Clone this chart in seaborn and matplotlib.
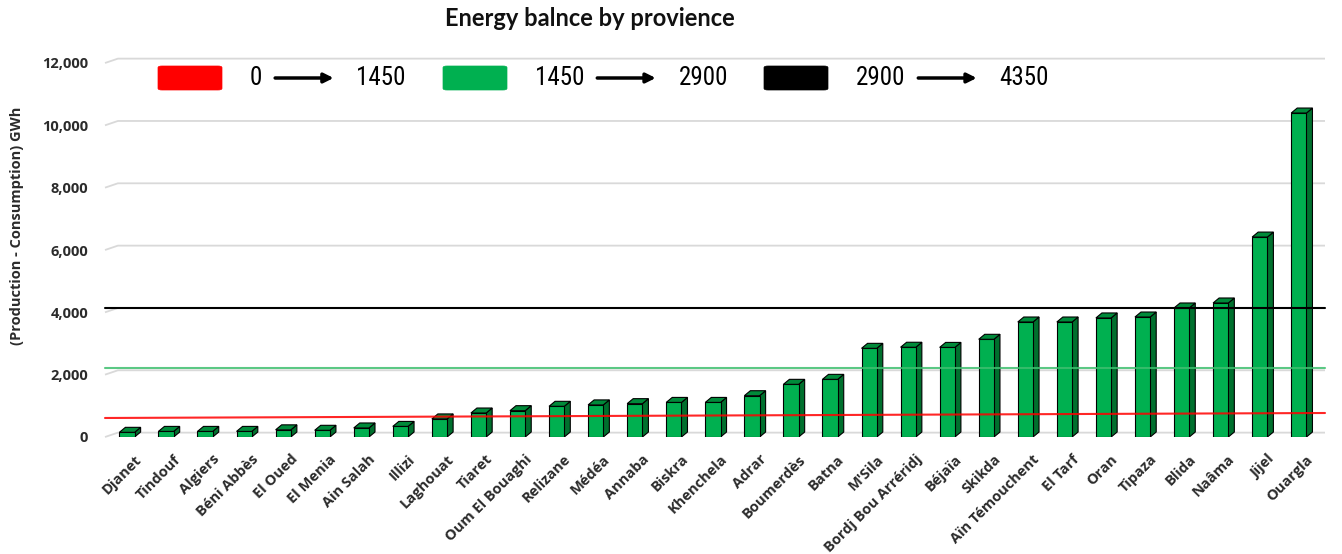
import matplotlib
matplotlib.use("Agg")
import matplotlib.pyplot as plt
import matplotlib.transforms as mtransforms
import pandas as pd
import seaborn as sns
from matplotlib import font_manager
from matplotlib.patches import Polygon, FancyBboxPatch, FancyArrowPatch

# ---- data -------------------------------------------------------------
provinces = ["Djanet", "Tindouf", "Algiers", "Béni Abbès", "El Oued", "El Menia",
             "Ain Salah", "Illizi", "Laghouat", "Tiaret", "Oum El Bouaghi", "Relizane",
             "Médéa", "Annaba", "Biskra", "Khenchela", "Adrar", "Boumerdès", "Batna",
             "M'Sila", "Bordj Bou Arréridj", "Béjaïa", "Skikda", "Aïn Témouchent",
             "El Tarf", "Oran", "Tipaza", "Blida", "Naâma", "Jijel", "Ouargla"]
balance_gwh = [150, 180, 180, 180, 230, 215, 290, 340, 580, 770, 845, 985,
               1030, 1070, 1110, 1110, 1325, 1690, 1850, 2845, 2880, 2875, 3135, 3690,
               3690, 3820, 3850, 4140, 4300, 6415, 10395]

# reference lines (value at left edge, value at right edge)
line_start = [610, 2220, 4130]
line_end = [770, 2220, 4130]
line_colors = ["#ff0000", "#3ebf6f", "#000000"]

# legend classes
range_low = [0, 1450, 2900]
range_high = [1450, 2900, 4350]
range_colors = ["#ff0000", "#00b050", "#000000"]

y_ticks = [0, 2000, 4000, 6000, 8000, 10000, 12000]

# ---- fonts ------------------------------------------------------------
available = {f.name for f in font_manager.fontManager.ttflist}

def pick(*names):
    for n in names:
        if n in available:
            return n
    return "DejaVu Sans"

title_font = pick("Lato", "Open Sans", "DejaVu Sans")
label_font = pick("Open Sans", "Lato", "DejaVu Sans")
narrow_font = pick("Liberation Sans Narrow", "Roboto Condensed", "Lato", "DejaVu Sans")

sns.set_theme(style="white")
plt.rcParams["font.family"] = [label_font, "DejaVu Sans"]

W, H = 1342, 554
fig = plt.figure(figsize=(W / 100, H / 100), dpi=100)
fig.patch.set_facecolor("white")

def fpx(x, y):
    return x / W, 1 - y / H

ax = fig.add_axes([105 / W, 1 - 437 / H, 1220 / W, 374 / H])

df = pd.DataFrame({"province": provinces, "balance": balance_gwh})
sns.barplot(data=df, x="province", y="balance", color="#00b050", saturation=1,
            width=0.39, edgecolor="black", linewidth=0.8, errorbar=None, ax=ax, zorder=3)

x_lo, x_hi = -0.563, 30.67
ax.set_xlim(x_lo, x_hi)
ax.set_ylim(0, 12000)

# depth of the pseudo-3D columns
ddx, ddy = 0.154, 160
for p in list(ax.patches):
    x0, w, h = p.get_x(), p.get_width(), p.get_height()
    side = Polygon([(x0 + w, 0), (x0 + w + ddx, ddy), (x0 + w + ddx, h + ddy), (x0 + w, h)],
                   closed=True, facecolor="#00702e", edgecolor="black", linewidth=0.8, zorder=2.9)
    top = Polygon([(x0, h), (x0 + ddx, h + ddy), (x0 + w + ddx, h + ddy), (x0 + w, h)],
                  closed=True, facecolor="#008a3a", edgecolor="black", linewidth=0.8, zorder=3.1)
    ax.add_patch(side)
    ax.add_patch(top)

# back-wall gridlines with a short slanted floor edge
gdx, gdy = 0.33, 140
for t in y_ticks:
    ax.plot([x_lo, x_lo + gdx, x_hi], [t, t + gdy, t + gdy], color="#d9d9d9",
            lw=1.3, zorder=1, clip_on=False, solid_capstyle="butt")

# reference lines
for s, e, c in zip(line_start, line_end, line_colors):
    ax.plot([x_lo, x_hi], [s, e], color=c, lw=1.5, alpha=0.85 if c != "#000000" else 1,
            zorder=5, clip_on=False)

for sp in ax.spines.values():
    sp.set_visible(False)

ax.set_yticks(y_ticks)
ax.set_yticklabels([f"{t:,}" for t in y_ticks], fontsize=10.5, fontweight="bold", color="#2b2b2b")
ax.tick_params(axis="y", length=0, pad=12)
ax.tick_params(axis="x", length=0, pad=11)
ax.set_xticks(range(len(provinces)))
ax.set_xticklabels(provinces, rotation=45, ha="right", rotation_mode="anchor",
                   fontsize=10.5, fontweight="bold", color="#2b2b2b")
shift = mtransforms.ScaledTranslation(7 / 100, 0, fig.dpi_scale_trans)
for lbl in ax.get_xticklabels():
    lbl.set_transform(lbl.get_transform() + shift)

ax.set_xlabel("")
ax.set_ylabel("(Production - Consumption) GWh", fontsize=10.5, fontweight="bold", color="#2b2b2b")
ax.yaxis.set_label_coords(-0.066, 0.566)

fig.text(*fpx(590, 19), "Energy balnce by provience", ha="center", va="center",
         fontsize=17, fontweight="bold", family=title_font, color="#111111")

# legend: colour swatch, "low ⟶ high"
renderer = fig.canvas.get_renderer()
patch_left = [158, 443, 764]
ly = 78
for left, lo, hi, c in zip(patch_left, range_low, range_high, range_colors):
    box = FancyBboxPatch(fpx(left, 90), 64 / W, 24 / H,
                         boxstyle="round,pad=0,rounding_size=0.003",
                         transform=fig.transFigure, facecolor=c, edgecolor=c, lw=0.5)
    fig.patches.append(box)
    t1 = fig.text(*fpx(left + 92, ly), str(lo), ha="left", va="center",
                  fontsize=18, family=narrow_font, color="black")
    bb = t1.get_window_extent(renderer)
    a0 = bb.x1 + 10
    a1 = a0 + 64
    fig.add_artist(FancyArrowPatch(
        (a0 / W, 1 - ly / H), (a1 / W, 1 - ly / H), transform=fig.transFigure,
        arrowstyle="-|>", mutation_scale=14, lw=2.5, color="black"))
    fig.text((a1 + 20) / W, 1 - ly / H, str(hi), ha="left", va="center",
             fontsize=18, family=narrow_font, color="black")

fig.savefig("out.png", dpi=100, facecolor="white")
